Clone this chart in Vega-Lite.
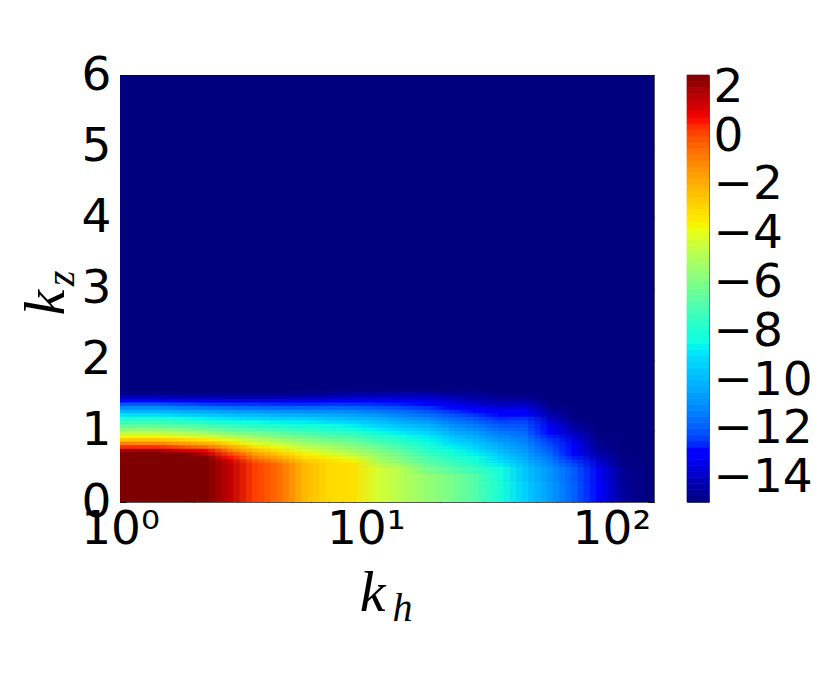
{"$schema":"https://vega.github.io/schema/vega-lite/v6.json","background":"white","padding":{"left":16,"top":50,"right":10,"bottom":10},"spacing":31,"datasets":{"field":[
{"h":1,"h2":149,"z":0,"z2":6,"v":-15},
{"h":1,"h2":1.58,"z":0,"z2":0.7,"v":3},{"h":1,"h2":1.58,"z":0.7,"z2":0.75,"v":2},{"h":1,"h2":1.58,"z":0.75,"z2":0.8,"v":0.4},{"h":1,"h2":1.58,"z":0.8,"z2":0.85,"v":-1},{"h":1,"h2":1.58,"z":0.85,"z2":0.9,"v":-2.5},{"h":1,"h2":1.58,"z":0.9,"z2":0.95,"v":-3.7},{"h":1,"h2":1.58,"z":0.95,"z2":1,"v":-4.7},{"h":1,"h2":1.58,"z":1,"z2":1.05,"v":-5.6},{"h":1,"h2":1.58,"z":1.05,"z2":1.1,"v":-6.6},{"h":1,"h2":1.58,"z":1.1,"z2":1.15,"v":-7.3},{"h":1,"h2":1.58,"z":1.15,"z2":1.2,"v":-8},{"h":1,"h2":1.58,"z":1.2,"z2":1.25,"v":-9},{"h":1,"h2":1.58,"z":1.25,"z2":1.3,"v":-10},{"h":1,"h2":1.58,"z":1.3,"z2":1.35,"v":-11},{"h":1,"h2":1.58,"z":1.35,"z2":1.4,"v":-12},{"h":1,"h2":1.58,"z":1.4,"z2":1.45,"v":-13},{"h":1,"h2":1.58,"z":1.45,"z2":1.5,"v":-14},{"h":1,"h2":1.58,"z":1.5,"z2":1.55,"v":-14.8},
{"h":1.58,"h2":2,"z":0,"z2":0.65,"v":3},{"h":1.58,"h2":2,"z":0.65,"z2":0.7,"v":2.6},{"h":1.58,"h2":2,"z":0.7,"z2":0.75,"v":1.2},{"h":1.58,"h2":2,"z":0.75,"z2":0.8,"v":-0.1},{"h":1.58,"h2":2,"z":0.8,"z2":0.85,"v":-1.5},{"h":1.58,"h2":2,"z":0.85,"z2":0.9,"v":-2.9},{"h":1.58,"h2":2,"z":0.9,"z2":0.95,"v":-4},{"h":1.58,"h2":2,"z":0.95,"z2":1,"v":-5},{"h":1.58,"h2":2,"z":1,"z2":1.05,"v":-5.9},{"h":1.58,"h2":2,"z":1.05,"z2":1.1,"v":-6.8},{"h":1.58,"h2":2,"z":1.1,"z2":1.15,"v":-7.5},{"h":1.58,"h2":2,"z":1.15,"z2":1.2,"v":-8.3},{"h":1.58,"h2":2,"z":1.2,"z2":1.25,"v":-9.3},{"h":1.58,"h2":2,"z":1.25,"z2":1.3,"v":-10.2},{"h":1.58,"h2":2,"z":1.3,"z2":1.35,"v":-11.2},{"h":1.58,"h2":2,"z":1.35,"z2":1.4,"v":-12.2},{"h":1.58,"h2":2,"z":1.4,"z2":1.45,"v":-13.2},{"h":1.58,"h2":2,"z":1.45,"z2":1.5,"v":-14.1},{"h":1.58,"h2":2,"z":1.5,"z2":1.55,"v":-14.8},
{"h":2,"h2":2.51,"z":0,"z2":0.6,"v":3},{"h":2,"h2":2.51,"z":0.6,"z2":0.65,"v":2.6},{"h":2,"h2":2.51,"z":0.65,"z2":0.7,"v":1.6},{"h":2,"h2":2.51,"z":0.7,"z2":0.75,"v":0.8},{"h":2,"h2":2.51,"z":0.75,"z2":0.8,"v":-0.7},{"h":2,"h2":2.51,"z":0.8,"z2":0.85,"v":-2},{"h":2,"h2":2.51,"z":0.85,"z2":0.9,"v":-3.3},{"h":2,"h2":2.51,"z":0.9,"z2":0.95,"v":-4.4},{"h":2,"h2":2.51,"z":0.95,"z2":1,"v":-5.4},{"h":2,"h2":2.51,"z":1,"z2":1.05,"v":-6.2},{"h":2,"h2":2.51,"z":1.05,"z2":1.1,"v":-7.1},{"h":2,"h2":2.51,"z":1.1,"z2":1.15,"v":-7.8},{"h":2,"h2":2.51,"z":1.15,"z2":1.2,"v":-8.6},{"h":2,"h2":2.51,"z":1.2,"z2":1.25,"v":-9.5},{"h":2,"h2":2.51,"z":1.25,"z2":1.3,"v":-10.4},{"h":2,"h2":2.51,"z":1.3,"z2":1.35,"v":-11.4},{"h":2,"h2":2.51,"z":1.35,"z2":1.4,"v":-12.4},{"h":2,"h2":2.51,"z":1.4,"z2":1.45,"v":-13.3},{"h":2,"h2":2.51,"z":1.45,"z2":1.5,"v":-14.1},{"h":2,"h2":2.51,"z":1.5,"z2":1.55,"v":-14.8},
{"h":2.51,"h2":3.16,"z":0,"z2":0.55,"v":1.5},{"h":2.51,"h2":3.16,"z":0.55,"z2":0.6,"v":1.2},{"h":2.51,"h2":3.16,"z":0.6,"z2":0.65,"v":0.6},{"h":2.51,"h2":3.16,"z":0.65,"z2":0.7,"v":0.1},{"h":2.51,"h2":3.16,"z":0.7,"z2":0.75,"v":-0.9},{"h":2.51,"h2":3.16,"z":0.75,"z2":0.8,"v":-1.9},{"h":2.51,"h2":3.16,"z":0.8,"z2":0.85,"v":-3},{"h":2.51,"h2":3.16,"z":0.85,"z2":0.9,"v":-4.1},{"h":2.51,"h2":3.16,"z":0.9,"z2":0.95,"v":-5},{"h":2.51,"h2":3.16,"z":0.95,"z2":1,"v":-5.9},{"h":2.51,"h2":3.16,"z":1,"z2":1.05,"v":-6.7},{"h":2.51,"h2":3.16,"z":1.05,"z2":1.1,"v":-7.5},{"h":2.51,"h2":3.16,"z":1.1,"z2":1.15,"v":-8.2},{"h":2.51,"h2":3.16,"z":1.15,"z2":1.2,"v":-8.9},{"h":2.51,"h2":3.16,"z":1.2,"z2":1.25,"v":-9.8},{"h":2.51,"h2":3.16,"z":1.25,"z2":1.3,"v":-10.7},{"h":2.51,"h2":3.16,"z":1.3,"z2":1.35,"v":-11.6},{"h":2.51,"h2":3.16,"z":1.35,"z2":1.4,"v":-12.5},{"h":2.51,"h2":3.16,"z":1.4,"z2":1.45,"v":-13.4},{"h":2.51,"h2":3.16,"z":1.45,"z2":1.5,"v":-14.2},{"h":2.51,"h2":3.16,"z":1.5,"z2":1.55,"v":-14.8},
{"h":3.16,"h2":3.98,"z":0,"z2":0.55,"v":0.2},{"h":3.16,"h2":3.98,"z":0.55,"z2":0.6,"v":-0.2},{"h":3.16,"h2":3.98,"z":0.6,"z2":0.65,"v":-0.9},{"h":3.16,"h2":3.98,"z":0.65,"z2":0.7,"v":-1.6},{"h":3.16,"h2":3.98,"z":0.7,"z2":0.75,"v":-2.3},{"h":3.16,"h2":3.98,"z":0.75,"z2":0.8,"v":-3.2},{"h":3.16,"h2":3.98,"z":0.8,"z2":0.85,"v":-4.1},{"h":3.16,"h2":3.98,"z":0.85,"z2":0.9,"v":-4.8},{"h":3.16,"h2":3.98,"z":0.9,"z2":0.95,"v":-5.5},{"h":3.16,"h2":3.98,"z":0.95,"z2":1,"v":-6.2},{"h":3.16,"h2":3.98,"z":1,"z2":1.05,"v":-7},{"h":3.16,"h2":3.98,"z":1.05,"z2":1.1,"v":-7.7},{"h":3.16,"h2":3.98,"z":1.1,"z2":1.15,"v":-8.4},{"h":3.16,"h2":3.98,"z":1.15,"z2":1.2,"v":-9.1},{"h":3.16,"h2":3.98,"z":1.2,"z2":1.25,"v":-9.9},{"h":3.16,"h2":3.98,"z":1.25,"z2":1.3,"v":-10.8},{"h":3.16,"h2":3.98,"z":1.3,"z2":1.35,"v":-11.7},{"h":3.16,"h2":3.98,"z":1.35,"z2":1.4,"v":-12.5},{"h":3.16,"h2":3.98,"z":1.4,"z2":1.45,"v":-13.4},{"h":3.16,"h2":3.98,"z":1.45,"z2":1.5,"v":-14.2},{"h":3.16,"h2":3.98,"z":1.5,"z2":1.55,"v":-14.8},
{"h":3.98,"h2":5.01,"z":0,"z2":0.55,"v":-0.6},{"h":3.98,"h2":5.01,"z":0.55,"z2":0.6,"v":-1.2},{"h":3.98,"h2":5.01,"z":0.6,"z2":0.65,"v":-1.9},{"h":3.98,"h2":5.01,"z":0.65,"z2":0.7,"v":-2.6},{"h":3.98,"h2":5.01,"z":0.7,"z2":0.75,"v":-3.2},{"h":3.98,"h2":5.01,"z":0.75,"z2":0.8,"v":-3.9},{"h":3.98,"h2":5.01,"z":0.8,"z2":0.85,"v":-4.6},{"h":3.98,"h2":5.01,"z":0.85,"z2":0.9,"v":-5.3},{"h":3.98,"h2":5.01,"z":0.9,"z2":0.95,"v":-6},{"h":3.98,"h2":5.01,"z":0.95,"z2":1,"v":-6.6},{"h":3.98,"h2":5.01,"z":1,"z2":1.05,"v":-7.3},{"h":3.98,"h2":5.01,"z":1.05,"z2":1.1,"v":-8},{"h":3.98,"h2":5.01,"z":1.1,"z2":1.15,"v":-8.6},{"h":3.98,"h2":5.01,"z":1.15,"z2":1.2,"v":-9.3},{"h":3.98,"h2":5.01,"z":1.2,"z2":1.25,"v":-10.1},{"h":3.98,"h2":5.01,"z":1.25,"z2":1.3,"v":-10.9},{"h":3.98,"h2":5.01,"z":1.3,"z2":1.35,"v":-11.8},{"h":3.98,"h2":5.01,"z":1.35,"z2":1.4,"v":-12.6},{"h":3.98,"h2":5.01,"z":1.4,"z2":1.45,"v":-13.4},{"h":3.98,"h2":5.01,"z":1.45,"z2":1.5,"v":-14.2},{"h":3.98,"h2":5.01,"z":1.5,"z2":1.55,"v":-14.8},
{"h":5.01,"h2":6.31,"z":0,"z2":0.55,"v":-2.2},{"h":5.01,"h2":6.31,"z":0.55,"z2":0.6,"v":-2.6},{"h":5.01,"h2":6.31,"z":0.6,"z2":0.65,"v":-3.1},{"h":5.01,"h2":6.31,"z":0.65,"z2":0.7,"v":-3.6},{"h":5.01,"h2":6.31,"z":0.7,"z2":0.75,"v":-4.1},{"h":5.01,"h2":6.31,"z":0.75,"z2":0.8,"v":-4.7},{"h":5.01,"h2":6.31,"z":0.8,"z2":0.85,"v":-5.3},{"h":5.01,"h2":6.31,"z":0.85,"z2":0.9,"v":-5.9},{"h":5.01,"h2":6.31,"z":0.9,"z2":0.95,"v":-6.4},{"h":5.01,"h2":6.31,"z":0.95,"z2":1,"v":-7},{"h":5.01,"h2":6.31,"z":1,"z2":1.05,"v":-7.6},{"h":5.01,"h2":6.31,"z":1.05,"z2":1.1,"v":-8.2},{"h":5.01,"h2":6.31,"z":1.1,"z2":1.15,"v":-8.7},{"h":5.01,"h2":6.31,"z":1.15,"z2":1.2,"v":-9.4},{"h":5.01,"h2":6.31,"z":1.2,"z2":1.25,"v":-10.2},{"h":5.01,"h2":6.31,"z":1.25,"z2":1.3,"v":-11},{"h":5.01,"h2":6.31,"z":1.3,"z2":1.35,"v":-11.8},{"h":5.01,"h2":6.31,"z":1.35,"z2":1.4,"v":-12.6},{"h":5.01,"h2":6.31,"z":1.4,"z2":1.45,"v":-13.3},{"h":5.01,"h2":6.31,"z":1.45,"z2":1.5,"v":-14.1},{"h":5.01,"h2":6.31,"z":1.5,"z2":1.55,"v":-14.7},
{"h":6.31,"h2":7.94,"z":0,"z2":0.55,"v":-3},{"h":6.31,"h2":7.94,"z":0.55,"z2":0.6,"v":-3.2},{"h":6.31,"h2":7.94,"z":0.6,"z2":0.65,"v":-3.6},{"h":6.31,"h2":7.94,"z":0.65,"z2":0.7,"v":-4.1},{"h":6.31,"h2":7.94,"z":0.7,"z2":0.75,"v":-4.6},{"h":6.31,"h2":7.94,"z":0.75,"z2":0.8,"v":-5.1},{"h":6.31,"h2":7.94,"z":0.8,"z2":0.85,"v":-5.7},{"h":6.31,"h2":7.94,"z":0.85,"z2":0.9,"v":-6.2},{"h":6.31,"h2":7.94,"z":0.9,"z2":0.95,"v":-6.8},{"h":6.31,"h2":7.94,"z":0.95,"z2":1,"v":-7.3},{"h":6.31,"h2":7.94,"z":1,"z2":1.05,"v":-7.9},{"h":6.31,"h2":7.94,"z":1.05,"z2":1.1,"v":-8.4},{"h":6.31,"h2":7.94,"z":1.1,"z2":1.15,"v":-9},{"h":6.31,"h2":7.94,"z":1.15,"z2":1.2,"v":-9.6},{"h":6.31,"h2":7.94,"z":1.2,"z2":1.25,"v":-10.3},{"h":6.31,"h2":7.94,"z":1.25,"z2":1.3,"v":-11},{"h":6.31,"h2":7.94,"z":1.3,"z2":1.35,"v":-11.8},{"h":6.31,"h2":7.94,"z":1.35,"z2":1.4,"v":-12.5},{"h":6.31,"h2":7.94,"z":1.4,"z2":1.45,"v":-13.2},{"h":6.31,"h2":7.94,"z":1.45,"z2":1.5,"v":-14},{"h":6.31,"h2":7.94,"z":1.5,"z2":1.55,"v":-14.6},
{"h":7.94,"h2":10,"z":0,"z2":0.55,"v":-3.2},{"h":7.94,"h2":10,"z":0.55,"z2":0.6,"v":-3.6},{"h":7.94,"h2":10,"z":0.6,"z2":0.65,"v":-4.2},{"h":7.94,"h2":10,"z":0.65,"z2":0.7,"v":-4.7},{"h":7.94,"h2":10,"z":0.7,"z2":0.75,"v":-5.2},{"h":7.94,"h2":10,"z":0.75,"z2":0.8,"v":-5.6},{"h":7.94,"h2":10,"z":0.8,"z2":0.85,"v":-6.1},{"h":7.94,"h2":10,"z":0.85,"z2":0.9,"v":-6.6},{"h":7.94,"h2":10,"z":0.9,"z2":0.95,"v":-7.1},{"h":7.94,"h2":10,"z":0.95,"z2":1,"v":-7.6},{"h":7.94,"h2":10,"z":1,"z2":1.05,"v":-8.2},{"h":7.94,"h2":10,"z":1.05,"z2":1.1,"v":-8.7},{"h":7.94,"h2":10,"z":1.1,"z2":1.15,"v":-9.3},{"h":7.94,"h2":10,"z":1.15,"z2":1.2,"v":-9.9},{"h":7.94,"h2":10,"z":1.2,"z2":1.25,"v":-10.5},{"h":7.94,"h2":10,"z":1.25,"z2":1.3,"v":-11.1},{"h":7.94,"h2":10,"z":1.3,"z2":1.35,"v":-11.8},{"h":7.94,"h2":10,"z":1.35,"z2":1.4,"v":-12.5},{"h":7.94,"h2":10,"z":1.4,"z2":1.45,"v":-13.1},{"h":7.94,"h2":10,"z":1.45,"z2":1.5,"v":-13.8},{"h":7.94,"h2":10,"z":1.5,"z2":1.55,"v":-14.5},{"h":7.94,"h2":10,"z":1.55,"z2":1.6,"v":-14.9},
{"h":10,"h2":12.6,"z":0,"z2":0.5,"v":-4.3},{"h":10,"h2":12.6,"z":0.5,"z2":0.55,"v":-4.7},{"h":10,"h2":12.6,"z":0.55,"z2":0.6,"v":-5},{"h":10,"h2":12.6,"z":0.6,"z2":0.65,"v":-5.3},{"h":10,"h2":12.6,"z":0.65,"z2":0.7,"v":-5.6},{"h":10,"h2":12.6,"z":0.7,"z2":0.75,"v":-5.9},{"h":10,"h2":12.6,"z":0.75,"z2":0.8,"v":-6.3},{"h":10,"h2":12.6,"z":0.8,"z2":0.85,"v":-6.9},{"h":10,"h2":12.6,"z":0.85,"z2":0.9,"v":-7.3},{"h":10,"h2":12.6,"z":0.9,"z2":0.95,"v":-7.7},{"h":10,"h2":12.6,"z":0.95,"z2":1,"v":-8.2},{"h":10,"h2":12.6,"z":1,"z2":1.05,"v":-8.7},{"h":10,"h2":12.6,"z":1.05,"z2":1.1,"v":-9.2},{"h":10,"h2":12.6,"z":1.1,"z2":1.15,"v":-9.7},{"h":10,"h2":12.6,"z":1.15,"z2":1.2,"v":-10.2},{"h":10,"h2":12.6,"z":1.2,"z2":1.25,"v":-10.8},{"h":10,"h2":12.6,"z":1.25,"z2":1.3,"v":-11.4},{"h":10,"h2":12.6,"z":1.3,"z2":1.35,"v":-12},{"h":10,"h2":12.6,"z":1.35,"z2":1.4,"v":-12.6},{"h":10,"h2":12.6,"z":1.4,"z2":1.45,"v":-13.1},{"h":10,"h2":12.6,"z":1.45,"z2":1.5,"v":-13.8},{"h":10,"h2":12.6,"z":1.5,"z2":1.55,"v":-14.4},{"h":10,"h2":12.6,"z":1.55,"z2":1.6,"v":-14.9},
{"h":12.6,"h2":15.8,"z":0,"z2":0.5,"v":-4.9},{"h":12.6,"h2":15.8,"z":0.5,"z2":0.55,"v":-5.4},{"h":12.6,"h2":15.8,"z":0.55,"z2":0.6,"v":-5.8},{"h":12.6,"h2":15.8,"z":0.6,"z2":0.65,"v":-6.1},{"h":12.6,"h2":15.8,"z":0.65,"z2":0.7,"v":-6.4},{"h":12.6,"h2":15.8,"z":0.7,"z2":0.75,"v":-6.7},{"h":12.6,"h2":15.8,"z":0.75,"z2":0.8,"v":-7.1},{"h":12.6,"h2":15.8,"z":0.8,"z2":0.85,"v":-7.5},{"h":12.6,"h2":15.8,"z":0.85,"z2":0.9,"v":-7.9},{"h":12.6,"h2":15.8,"z":0.9,"z2":0.95,"v":-8.3},{"h":12.6,"h2":15.8,"z":0.95,"z2":1,"v":-8.8},{"h":12.6,"h2":15.8,"z":1,"z2":1.05,"v":-9.2},{"h":12.6,"h2":15.8,"z":1.05,"z2":1.1,"v":-9.7},{"h":12.6,"h2":15.8,"z":1.1,"z2":1.15,"v":-10.2},{"h":12.6,"h2":15.8,"z":1.15,"z2":1.2,"v":-10.7},{"h":12.6,"h2":15.8,"z":1.2,"z2":1.25,"v":-11.2},{"h":12.6,"h2":15.8,"z":1.25,"z2":1.3,"v":-11.7},{"h":12.6,"h2":15.8,"z":1.3,"z2":1.35,"v":-12.2},{"h":12.6,"h2":15.8,"z":1.35,"z2":1.4,"v":-12.7},{"h":12.6,"h2":15.8,"z":1.4,"z2":1.45,"v":-13.2},{"h":12.6,"h2":15.8,"z":1.45,"z2":1.5,"v":-13.8},{"h":12.6,"h2":15.8,"z":1.5,"z2":1.55,"v":-14.4},{"h":12.6,"h2":15.8,"z":1.55,"z2":1.6,"v":-14.9},
{"h":15.8,"h2":20,"z":0,"z2":0.4,"v":-5.5},{"h":15.8,"h2":20,"z":0.4,"z2":0.5,"v":-6},{"h":15.8,"h2":20,"z":0.5,"z2":0.55,"v":-6.4},{"h":15.8,"h2":20,"z":0.55,"z2":0.6,"v":-6.7},{"h":15.8,"h2":20,"z":0.6,"z2":0.65,"v":-7},{"h":15.8,"h2":20,"z":0.65,"z2":0.7,"v":-7.3},{"h":15.8,"h2":20,"z":0.7,"z2":0.75,"v":-7.6},{"h":15.8,"h2":20,"z":0.75,"z2":0.8,"v":-7.9},{"h":15.8,"h2":20,"z":0.8,"z2":0.85,"v":-8.2},{"h":15.8,"h2":20,"z":0.85,"z2":0.9,"v":-8.5},{"h":15.8,"h2":20,"z":0.9,"z2":0.95,"v":-8.8},{"h":15.8,"h2":20,"z":0.95,"z2":1,"v":-9.2},{"h":15.8,"h2":20,"z":1,"z2":1.05,"v":-9.6},{"h":15.8,"h2":20,"z":1.05,"z2":1.1,"v":-10.1},{"h":15.8,"h2":20,"z":1.1,"z2":1.15,"v":-10.6},{"h":15.8,"h2":20,"z":1.15,"z2":1.2,"v":-11.1},{"h":15.8,"h2":20,"z":1.2,"z2":1.25,"v":-11.6},{"h":15.8,"h2":20,"z":1.25,"z2":1.3,"v":-12.1},{"h":15.8,"h2":20,"z":1.3,"z2":1.35,"v":-12.5},{"h":15.8,"h2":20,"z":1.35,"z2":1.4,"v":-12.9},{"h":15.8,"h2":20,"z":1.4,"z2":1.45,"v":-13.3},{"h":15.8,"h2":20,"z":1.45,"z2":1.5,"v":-13.8},{"h":15.8,"h2":20,"z":1.5,"z2":1.55,"v":-14.4},{"h":15.8,"h2":20,"z":1.55,"z2":1.6,"v":-14.9},
{"h":20,"h2":25.1,"z":0,"z2":0.4,"v":-6.1},{"h":20,"h2":25.1,"z":0.4,"z2":0.5,"v":-6.7},{"h":20,"h2":25.1,"z":0.5,"z2":0.55,"v":-7.1},{"h":20,"h2":25.1,"z":0.55,"z2":0.6,"v":-7.4},{"h":20,"h2":25.1,"z":0.6,"z2":0.65,"v":-7.7},{"h":20,"h2":25.1,"z":0.65,"z2":0.7,"v":-8},{"h":20,"h2":25.1,"z":0.7,"z2":0.75,"v":-8.3},{"h":20,"h2":25.1,"z":0.75,"z2":0.8,"v":-8.6},{"h":20,"h2":25.1,"z":0.8,"z2":0.85,"v":-9},{"h":20,"h2":25.1,"z":0.85,"z2":0.9,"v":-9.3},{"h":20,"h2":25.1,"z":0.9,"z2":0.95,"v":-9.7},{"h":20,"h2":25.1,"z":0.95,"z2":1,"v":-10.1},{"h":20,"h2":25.1,"z":1,"z2":1.05,"v":-10.5},{"h":20,"h2":25.1,"z":1.05,"z2":1.1,"v":-10.9},{"h":20,"h2":25.1,"z":1.1,"z2":1.15,"v":-11.3},{"h":20,"h2":25.1,"z":1.15,"z2":1.2,"v":-11.7},{"h":20,"h2":25.1,"z":1.2,"z2":1.25,"v":-12.1},{"h":20,"h2":25.1,"z":1.25,"z2":1.3,"v":-12.5},{"h":20,"h2":25.1,"z":1.3,"z2":1.35,"v":-12.9},{"h":20,"h2":25.1,"z":1.35,"z2":1.4,"v":-13.3},{"h":20,"h2":25.1,"z":1.4,"z2":1.45,"v":-13.7},{"h":20,"h2":25.1,"z":1.45,"z2":1.5,"v":-14.1},{"h":20,"h2":25.1,"z":1.5,"z2":1.55,"v":-14.6},{"h":20,"h2":25.1,"z":1.55,"z2":1.6,"v":-14.9},
{"h":25.1,"h2":31.6,"z":0,"z2":0.4,"v":-6.9},{"h":25.1,"h2":31.6,"z":0.4,"z2":0.5,"v":-7.4},{"h":25.1,"h2":31.6,"z":0.5,"z2":0.55,"v":-7.8},{"h":25.1,"h2":31.6,"z":0.55,"z2":0.6,"v":-8.1},{"h":25.1,"h2":31.6,"z":0.6,"z2":0.65,"v":-8.4},{"h":25.1,"h2":31.6,"z":0.65,"z2":0.7,"v":-8.6},{"h":25.1,"h2":31.6,"z":0.7,"z2":0.75,"v":-9},{"h":25.1,"h2":31.6,"z":0.75,"z2":0.8,"v":-9.3},{"h":25.1,"h2":31.6,"z":0.8,"z2":0.85,"v":-9.6},{"h":25.1,"h2":31.6,"z":0.85,"z2":0.9,"v":-10},{"h":25.1,"h2":31.6,"z":0.9,"z2":0.95,"v":-10.3},{"h":25.1,"h2":31.6,"z":0.95,"z2":1,"v":-10.7},{"h":25.1,"h2":31.6,"z":1,"z2":1.05,"v":-11},{"h":25.1,"h2":31.6,"z":1.05,"z2":1.1,"v":-11.4},{"h":25.1,"h2":31.6,"z":1.1,"z2":1.15,"v":-11.8},{"h":25.1,"h2":31.6,"z":1.15,"z2":1.2,"v":-12.1},{"h":25.1,"h2":31.6,"z":1.2,"z2":1.25,"v":-12.5},{"h":25.1,"h2":31.6,"z":1.25,"z2":1.3,"v":-12.9},{"h":25.1,"h2":31.6,"z":1.3,"z2":1.35,"v":-13.3},{"h":25.1,"h2":31.6,"z":1.35,"z2":1.4,"v":-13.7},{"h":25.1,"h2":31.6,"z":1.4,"z2":1.45,"v":-14.1},{"h":25.1,"h2":31.6,"z":1.45,"z2":1.5,"v":-14.4},{"h":25.1,"h2":31.6,"z":1.5,"z2":1.55,"v":-14.7},{"h":25.1,"h2":31.6,"z":1.55,"z2":1.6,"v":-14.9},
{"h":31.6,"h2":39.8,"z":0,"z2":0.3,"v":-8.1},{"h":31.6,"h2":39.8,"z":0.3,"z2":0.5,"v":-8.3},{"h":31.6,"h2":39.8,"z":0.5,"z2":0.55,"v":-8.7},{"h":31.6,"h2":39.8,"z":0.55,"z2":0.6,"v":-9},{"h":31.6,"h2":39.8,"z":0.6,"z2":0.65,"v":-9.3},{"h":31.6,"h2":39.8,"z":0.65,"z2":0.7,"v":-9.6},{"h":31.6,"h2":39.8,"z":0.7,"z2":0.75,"v":-9.9},{"h":31.6,"h2":39.8,"z":0.75,"z2":0.8,"v":-10.2},{"h":31.6,"h2":39.8,"z":0.8,"z2":0.85,"v":-10.5},{"h":31.6,"h2":39.8,"z":0.85,"z2":0.9,"v":-10.8},{"h":31.6,"h2":39.8,"z":0.9,"z2":0.95,"v":-11.1},{"h":31.6,"h2":39.8,"z":0.95,"z2":1,"v":-11.4},{"h":31.6,"h2":39.8,"z":1,"z2":1.05,"v":-11.7},{"h":31.6,"h2":39.8,"z":1.05,"z2":1.1,"v":-12},{"h":31.6,"h2":39.8,"z":1.1,"z2":1.15,"v":-12.3},{"h":31.6,"h2":39.8,"z":1.15,"z2":1.2,"v":-12.6},{"h":31.6,"h2":39.8,"z":1.2,"z2":1.25,"v":-12.9},{"h":31.6,"h2":39.8,"z":1.25,"z2":1.3,"v":-13.2},{"h":31.6,"h2":39.8,"z":1.3,"z2":1.35,"v":-13.6},{"h":31.6,"h2":39.8,"z":1.35,"z2":1.4,"v":-14},{"h":31.6,"h2":39.8,"z":1.4,"z2":1.45,"v":-14.3},{"h":31.6,"h2":39.8,"z":1.45,"z2":1.5,"v":-14.6},{"h":31.6,"h2":39.8,"z":1.5,"z2":1.55,"v":-14.9},
{"h":39.8,"h2":50.1,"z":0,"z2":0.3,"v":-9.4},{"h":39.8,"h2":50.1,"z":0.3,"z2":0.5,"v":-9.6},{"h":39.8,"h2":50.1,"z":0.5,"z2":0.55,"v":-9.9},{"h":39.8,"h2":50.1,"z":0.55,"z2":0.6,"v":-10.1},{"h":39.8,"h2":50.1,"z":0.6,"z2":0.65,"v":-10.3},{"h":39.8,"h2":50.1,"z":0.65,"z2":0.7,"v":-10.5},{"h":39.8,"h2":50.1,"z":0.7,"z2":0.75,"v":-10.7},{"h":39.8,"h2":50.1,"z":0.75,"z2":0.8,"v":-10.9},{"h":39.8,"h2":50.1,"z":0.8,"z2":0.85,"v":-11.1},{"h":39.8,"h2":50.1,"z":0.85,"z2":0.9,"v":-11.3},{"h":39.8,"h2":50.1,"z":0.9,"z2":0.95,"v":-11.5},{"h":39.8,"h2":50.1,"z":0.95,"z2":1,"v":-11.7},{"h":39.8,"h2":50.1,"z":1,"z2":1.05,"v":-11.9},{"h":39.8,"h2":50.1,"z":1.05,"z2":1.1,"v":-12.1},{"h":39.8,"h2":50.1,"z":1.1,"z2":1.15,"v":-12.3},{"h":39.8,"h2":50.1,"z":1.15,"z2":1.2,"v":-12.5},{"h":39.8,"h2":50.1,"z":1.2,"z2":1.25,"v":-12.8},{"h":39.8,"h2":50.1,"z":1.25,"z2":1.3,"v":-13.1},{"h":39.8,"h2":50.1,"z":1.3,"z2":1.35,"v":-13.5},{"h":39.8,"h2":50.1,"z":1.35,"z2":1.4,"v":-13.9},{"h":39.8,"h2":50.1,"z":1.4,"z2":1.45,"v":-14.3},{"h":39.8,"h2":50.1,"z":1.45,"z2":1.5,"v":-14.7},{"h":39.8,"h2":50.1,"z":1.5,"z2":1.55,"v":-14.9},
{"h":50.1,"h2":63.1,"z":0,"z2":0.3,"v":-10.7},{"h":50.1,"h2":63.1,"z":0.3,"z2":0.5,"v":-10.8},{"h":50.1,"h2":63.1,"z":0.5,"z2":0.55,"v":-11.1},{"h":50.1,"h2":63.1,"z":0.55,"z2":0.6,"v":-11.3},{"h":50.1,"h2":63.1,"z":0.6,"z2":0.65,"v":-11.5},{"h":50.1,"h2":63.1,"z":0.65,"z2":0.7,"v":-11.7},{"h":50.1,"h2":63.1,"z":0.7,"z2":0.75,"v":-11.9},{"h":50.1,"h2":63.1,"z":0.75,"z2":0.8,"v":-12.1},{"h":50.1,"h2":63.1,"z":0.8,"z2":0.85,"v":-12.3},{"h":50.1,"h2":63.1,"z":0.85,"z2":0.9,"v":-12.5},{"h":50.1,"h2":63.1,"z":0.9,"z2":0.95,"v":-12.7},{"h":50.1,"h2":63.1,"z":0.95,"z2":1,"v":-12.9},{"h":50.1,"h2":63.1,"z":1,"z2":1.05,"v":-13.1},{"h":50.1,"h2":63.1,"z":1.05,"z2":1.1,"v":-13.3},{"h":50.1,"h2":63.1,"z":1.1,"z2":1.15,"v":-13.6},{"h":50.1,"h2":63.1,"z":1.15,"z2":1.2,"v":-13.9},{"h":50.1,"h2":63.1,"z":1.2,"z2":1.25,"v":-14.2},{"h":50.1,"h2":63.1,"z":1.25,"z2":1.3,"v":-14.5},{"h":50.1,"h2":63.1,"z":1.3,"z2":1.35,"v":-14.7},{"h":50.1,"h2":63.1,"z":1.35,"z2":1.4,"v":-14.9},
{"h":63.1,"h2":79.4,"z":0,"z2":0.3,"v":-11.9},{"h":63.1,"h2":79.4,"z":0.3,"z2":0.5,"v":-12},{"h":63.1,"h2":79.4,"z":0.5,"z2":0.55,"v":-12.3},{"h":63.1,"h2":79.4,"z":0.55,"z2":0.6,"v":-12.5},{"h":63.1,"h2":79.4,"z":0.6,"z2":0.65,"v":-12.7},{"h":63.1,"h2":79.4,"z":0.65,"z2":0.7,"v":-12.9},{"h":63.1,"h2":79.4,"z":0.7,"z2":0.75,"v":-13},{"h":63.1,"h2":79.4,"z":0.75,"z2":0.8,"v":-13.1},{"h":63.1,"h2":79.4,"z":0.8,"z2":0.85,"v":-13.3},{"h":63.1,"h2":79.4,"z":0.85,"z2":0.9,"v":-13.5},{"h":63.1,"h2":79.4,"z":0.9,"z2":0.95,"v":-13.8},{"h":63.1,"h2":79.4,"z":0.95,"z2":1,"v":-14},{"h":63.1,"h2":79.4,"z":1,"z2":1.05,"v":-14.3},{"h":63.1,"h2":79.4,"z":1.05,"z2":1.1,"v":-14.5},{"h":63.1,"h2":79.4,"z":1.1,"z2":1.15,"v":-14.7},{"h":63.1,"h2":79.4,"z":1.15,"z2":1.2,"v":-14.9},
{"h":79.4,"h2":100,"z":0,"z2":0.3,"v":-13},{"h":79.4,"h2":100,"z":0.3,"z2":0.5,"v":-13.2},{"h":79.4,"h2":100,"z":0.5,"z2":0.6,"v":-13.7},{"h":79.4,"h2":100,"z":0.6,"z2":0.7,"v":-14.2},{"h":79.4,"h2":100,"z":0.7,"z2":0.8,"v":-14.6},{"h":79.4,"h2":100,"z":0.8,"z2":0.9,"v":-14.8},{"h":79.4,"h2":100,"z":0.9,"z2":1,"v":-14.95},
{"h":100,"h2":126,"z":0,"z2":0.3,"v":-14.6},{"h":100,"h2":126,"z":0.3,"z2":0.5,"v":-14.7},{"h":100,"h2":126,"z":0.5,"z2":0.7,"v":-14.9}
],"bar":[
{"v0":-15,"v1":-14.75,"v":-14.87},{"v0":-14.75,"v1":-14.5,"v":-14.62},{"v0":-14.5,"v1":-14.25,"v":-14.37},{"v0":-14.25,"v1":-14,"v":-14.12},{"v0":-14,"v1":-13.75,"v":-13.87},{"v0":-13.75,"v1":-13.5,"v":-13.62},{"v0":-13.5,"v1":-13.25,"v":-13.37},{"v0":-13.25,"v1":-13,"v":-13.12},{"v0":-13,"v1":-12.75,"v":-12.87},{"v0":-12.75,"v1":-12.5,"v":-12.62},{"v0":-12.5,"v1":-12.25,"v":-12.37},{"v0":-12.25,"v1":-12,"v":-12.12},{"v0":-12,"v1":-11.75,"v":-11.87},{"v0":-11.75,"v1":-11.5,"v":-11.62},{"v0":-11.5,"v1":-11.25,"v":-11.37},{"v0":-11.25,"v1":-11,"v":-11.12},{"v0":-11,"v1":-10.75,"v":-10.87},{"v0":-10.75,"v1":-10.5,"v":-10.62},{"v0":-10.5,"v1":-10.25,"v":-10.37},{"v0":-10.25,"v1":-10,"v":-10.12},{"v0":-10,"v1":-9.75,"v":-9.87},{"v0":-9.75,"v1":-9.5,"v":-9.62},{"v0":-9.5,"v1":-9.25,"v":-9.37},{"v0":-9.25,"v1":-9,"v":-9.12},{"v0":-9,"v1":-8.75,"v":-8.87},{"v0":-8.75,"v1":-8.5,"v":-8.62},{"v0":-8.5,"v1":-8.25,"v":-8.37},{"v0":-8.25,"v1":-8,"v":-8.12},{"v0":-8,"v1":-7.75,"v":-7.87},{"v0":-7.75,"v1":-7.5,"v":-7.62},{"v0":-7.5,"v1":-7.25,"v":-7.37},{"v0":-7.25,"v1":-7,"v":-7.12},{"v0":-7,"v1":-6.75,"v":-6.87},{"v0":-6.75,"v1":-6.5,"v":-6.62},{"v0":-6.5,"v1":-6.25,"v":-6.37},{"v0":-6.25,"v1":-6,"v":-6.12},{"v0":-6,"v1":-5.75,"v":-5.87},{"v0":-5.75,"v1":-5.5,"v":-5.62},{"v0":-5.5,"v1":-5.25,"v":-5.37},{"v0":-5.25,"v1":-5,"v":-5.12},{"v0":-5,"v1":-4.75,"v":-4.87},{"v0":-4.75,"v1":-4.5,"v":-4.62},{"v0":-4.5,"v1":-4.25,"v":-4.37},{"v0":-4.25,"v1":-4,"v":-4.12},{"v0":-4,"v1":-3.75,"v":-3.87},{"v0":-3.75,"v1":-3.5,"v":-3.62},{"v0":-3.5,"v1":-3.25,"v":-3.37},{"v0":-3.25,"v1":-3,"v":-3.12},{"v0":-3,"v1":-2.75,"v":-2.87},{"v0":-2.75,"v1":-2.5,"v":-2.62},{"v0":-2.5,"v1":-2.25,"v":-2.37},{"v0":-2.25,"v1":-2,"v":-2.12},{"v0":-2,"v1":-1.75,"v":-1.87},{"v0":-1.75,"v1":-1.5,"v":-1.62},{"v0":-1.5,"v1":-1.25,"v":-1.37},{"v0":-1.25,"v1":-1,"v":-1.12},{"v0":-1,"v1":-0.75,"v":-0.87},{"v0":-0.75,"v1":-0.5,"v":-0.62},{"v0":-0.5,"v1":-0.25,"v":-0.37},{"v0":-0.25,"v1":0,"v":-0.12},{"v0":0,"v1":0.25,"v":0.12},{"v0":0.25,"v1":0.5,"v":0.37},{"v0":0.5,"v1":0.75,"v":0.62},{"v0":0.75,"v1":1,"v":0.87},{"v0":1,"v1":1.25,"v":1.12},{"v0":1.25,"v1":1.5,"v":1.37},{"v0":1.5,"v1":1.75,"v":1.62},{"v0":1.75,"v1":2,"v":1.87},{"v0":2,"v1":2.25,"v":2.12},{"v0":2.25,"v1":2.5,"v":2.37}
],"dummy":[{"h":1,"z":0}]},
"hconcat":[
{"width":534,"height":427,"layer":[
{"data":{"name":"field"},"transform":[{"filter":"datum.v==-15"}],"mark":{"type":"rect","clip":true},"encoding":{
"x":{"field":"h","type":"quantitative","scale":{"type":"log","domain":[1,149],"nice":false},"axis":{"orient":"bottom","values":[1,10,100],"labelExpr":"datum.value==1?'10⁰':datum.value==10?'10¹':'10²'","tickSize":-6,"labelPadding":10,"title":"k","titleFont":"Liberation Serif","titleFontStyle":"italic","titleFontSize":58,"titleFontWeight":"normal","titleX":252,"titleY":108,"titleBaseline":"alphabetic"}},
"x2":{"field":"h2"},
"y":{"field":"z","type":"quantitative","scale":{"domain":[0,6],"nice":false},"axis":{"orient":"left","values":[0,1,2,3,4,5,6],"tickSize":-6,"labelPadding":15,"title":"k","titleFont":"Liberation Serif","titleFontStyle":"italic","titleFontSize":58,"titleFontWeight":"normal","titleAngle":270,"titleX":-57,"titleY":227,"titleBaseline":"alphabetic"}},
"y2":{"field":"z2"},
"color":{"field":"v","type":"quantitative","scale":{"type":"linear","clamp":true,"domain":[-15,-13.075,-12.8125,-9.05,-8.4375,-3.8,-3.45,0.575,0.925,2.5],"range":["#00007f","#0000ff","#0000ff","#00dbff","#14ffe2","#eeff08","#ffec00","#ff1300","#e80000","#7f0000"]},"legend":null}}},
{"data":{"name":"field"},"transform":[{"filter":"datum.v>-15"}],"mark":{"type":"rect","clip":true,"strokeWidth":0.7,"xOffset":-9.2,"x2Offset":-9.2},"encoding":{"x":{"field":"h","type":"quantitative","axis":null},"x2":{"field":"h2"},"y":{"field":"z","type":"quantitative","axis":null},"y2":{"field":"z2"},
"color":{"field":"v","type":"quantitative","scale":{"type":"linear","clamp":true,"domain":[-15,-13.075,-12.8125,-9.05,-8.4375,-3.8,-3.45,0.575,0.925,2.5],"range":["#00007f","#0000ff","#0000ff","#00dbff","#14ffe2","#eeff08","#ffec00","#ff1300","#e80000","#7f0000"]},"legend":null},
"stroke":{"field":"v","type":"quantitative","scale":{"type":"linear","clamp":true,"domain":[-15,-13.075,-12.8125,-9.05,-8.4375,-3.8,-3.45,0.575,0.925,2.5],"range":["#00007f","#0000ff","#0000ff","#00dbff","#14ffe2","#eeff08","#ffec00","#ff1300","#e80000","#7f0000"]},"legend":null}}},
{"data":{"name":"field"},"transform":[{"filter":"datum.v>-15"}],"mark":{"type":"rect","clip":true,"opacity":0.5,"xOffset":-3.1,"x2Offset":-3.1},"encoding":{"x":{"field":"h","type":"quantitative","axis":null},"x2":{"field":"h2"},"y":{"field":"z","type":"quantitative","axis":null},"y2":{"field":"z2"},"color":{"field":"v","type":"quantitative","scale":{"type":"linear","clamp":true,"domain":[-15,-13.075,-12.8125,-9.05,-8.4375,-3.8,-3.45,0.575,0.925,2.5],"range":["#00007f","#0000ff","#0000ff","#00dbff","#14ffe2","#eeff08","#ffec00","#ff1300","#e80000","#7f0000"]},"legend":null}}},
{"data":{"name":"field"},"transform":[{"filter":"datum.v>-15"}],"mark":{"type":"rect","clip":true,"opacity":0.333,"xOffset":3.1,"x2Offset":3.1},"encoding":{"x":{"field":"h","type":"quantitative","axis":null},"x2":{"field":"h2"},"y":{"field":"z","type":"quantitative","axis":null},"y2":{"field":"z2"},"color":{"field":"v","type":"quantitative","scale":{"type":"linear","clamp":true,"domain":[-15,-13.075,-12.8125,-9.05,-8.4375,-3.8,-3.45,0.575,0.925,2.5],"range":["#00007f","#0000ff","#0000ff","#00dbff","#14ffe2","#eeff08","#ffec00","#ff1300","#e80000","#7f0000"]},"legend":null}}},
{"data":{"name":"field"},"transform":[{"filter":"datum.v>-15"}],"mark":{"type":"rect","clip":true,"opacity":0.25,"xOffset":9.2,"x2Offset":9.2},"encoding":{"x":{"field":"h","type":"quantitative","axis":null},"x2":{"field":"h2"},"y":{"field":"z","type":"quantitative","axis":null},"y2":{"field":"z2"},"color":{"field":"v","type":"quantitative","scale":{"type":"linear","clamp":true,"domain":[-15,-13.075,-12.8125,-9.05,-8.4375,-3.8,-3.45,0.575,0.925,2.5],"range":["#00007f","#0000ff","#0000ff","#00dbff","#14ffe2","#eeff08","#ffec00","#ff1300","#e80000","#7f0000"]},"legend":null}}},
{"data":{"name":"dummy"},"mark":{"type":"point","opacity":0},"encoding":{
"x":{"field":"h","type":"quantitative","axis":{"orient":"top","values":[1,10,100],"labels":false,"tickSize":-6,"title":null}},
"y":{"field":"z","type":"quantitative","axis":{"orient":"right","values":[0,1,2,3,4,5,6],"labels":false,"tickSize":-6,"title":null}}}},
{"data":{"name":"dummy"},"mark":{"type":"point","opacity":0},"encoding":{
"x":{"field":"h","type":"quantitative","axis":{"orient":"bottom","values":[2,3,4,5,6,7,8,9,20,30,40,50,60,70,80,90],"labels":false,"tickSize":-3,"title":"h","titleFont":"Liberation Serif","titleFontStyle":"italic","titleFontSize":40,"titleFontWeight":"normal","titleX":282,"titleY":118,"titleBaseline":"alphabetic"}},
"y":{"field":"z","type":"quantitative","axis":{"orient":"left","values":[1],"labels":false,"ticks":false,"domain":false,"title":"z","titleFont":"Liberation Serif","titleFontStyle":"italic","titleFontSize":40,"titleFontWeight":"normal","titleAngle":270,"titleX":-47,"titleY":203,"titleBaseline":"alphabetic"}}}},
{"data":{"name":"dummy"},"mark":{"type":"point","opacity":0},"encoding":{
"x":{"field":"h","type":"quantitative","axis":{"orient":"top","values":[2,3,4,5,6,7,8,9,20,30,40,50,60,70,80,90],"labels":false,"tickSize":-3,"title":null}}}}
],"resolve":{"axis":{"x":"independent","y":"independent"}}},
{"width":22,"height":427,"data":{"name":"bar"},"mark":{"type":"rect","strokeWidth":0.7},"encoding":{
"y":{"field":"v0","type":"quantitative","scale":{"domain":[-15,2.5],"nice":false,"zero":false},"axis":{"orient":"right","values":[-14,-12,-10,-8,-6,-4,-2,0,2],"format":"d","tickSize":-5,"labelPadding":9,"title":null}},
"y2":{"field":"v1"},
"color":{"field":"v","type":"quantitative","scale":{"type":"linear","clamp":true,"domain":[-15,-13.075,-12.8125,-9.05,-8.4375,-3.8,-3.45,0.575,0.925,2.5],"range":["#00007f","#0000ff","#0000ff","#00dbff","#14ffe2","#eeff08","#ffec00","#ff1300","#e80000","#7f0000"]},"legend":null},
"stroke":{"field":"v","type":"quantitative","scale":{"type":"linear","clamp":true,"domain":[-15,-13.075,-12.8125,-9.05,-8.4375,-3.8,-3.45,0.575,0.925,2.5],"range":["#00007f","#0000ff","#0000ff","#00dbff","#14ffe2","#eeff08","#ffec00","#ff1300","#e80000","#7f0000"]},"legend":null}}}
],
"config":{"font":"DejaVu Sans","view":{"stroke":"#555555","strokeWidth":1},"axis":{"grid":false,"domain":false,"tickColor":"black","tickWidth":1,"labelFont":"DejaVu Sans","labelFontSize":47,"labelColor":"black","labelOverlap":false,"labelBound":false,"labelFlush":false,"titleColor":"black"}}}
